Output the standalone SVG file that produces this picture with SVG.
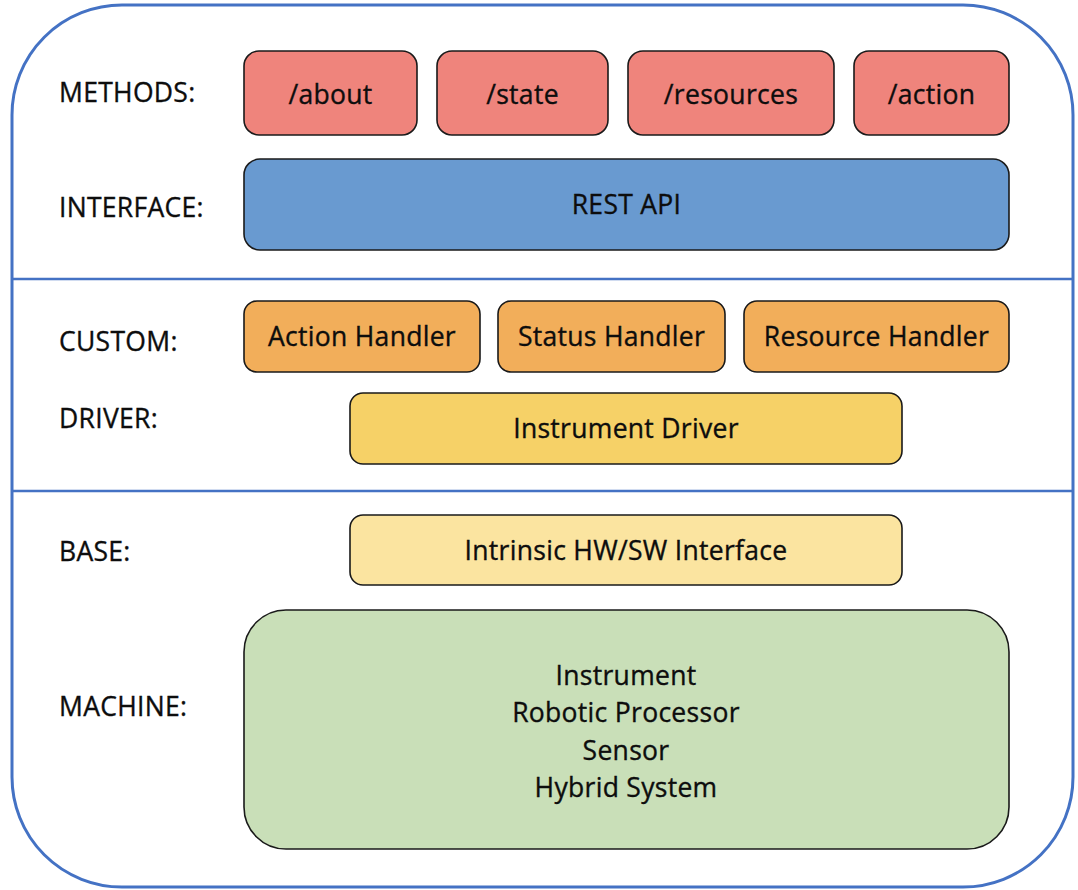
<svg xmlns="http://www.w3.org/2000/svg" width="1078" height="890" viewBox="0 0 1078 890">
  <style>
    .frame { fill: #ffffff; stroke: #4472C4; stroke-width: 3; }
    .divider { stroke: #4472C4; stroke-width: 2.5; }
    .box { stroke: #1a1a1a; stroke-width: 1.6; }
    .method { fill: #EF847C; }
    .api { fill: #699AD0; }
    .custom { fill: #F2AE5A; }
    .driver { fill: #F6D167; }
    .base { fill: #FBE4A0; }
    .machine { fill: #C9DFB8; }
    text { font-family: "Open Sans", "Liberation Sans", sans-serif; font-size: 26.5px; letter-spacing: 0.3px; fill: #0d0d0d; stroke: #0d0d0d; stroke-width: 0.35px; }
    .label { text-anchor: start; }
    .center { text-anchor: middle; }
  </style>

  <!-- outer container -->
  <rect class="frame" x="12" y="5" width="1061" height="882" rx="110" ry="110"/>

  <!-- layer separators -->
  <g id="connectors">
    <line class="divider" x1="12" y1="279" x2="1073" y2="279"/>
    <line class="divider" x1="12" y1="491" x2="1073" y2="491"/>
  </g>

  <!-- row labels -->
  <g id="labels">
    <text class="label" x="59" y="102">METHODS:</text>
    <text class="label" x="59" y="217">INTERFACE:</text>
    <text class="label" x="59" y="351">CUSTOM:</text>
    <text class="label" x="59" y="428">DRIVER:</text>
    <text class="label" x="59" y="561">BASE:</text>
    <text class="label" x="59" y="716">MACHINE:</text>
  </g>

  <!-- methods -->
  <g id="about">
    <rect class="box method" x="244" y="51" width="173" height="84" rx="15"/>
    <text class="center" x="330.5" y="104">/about</text>
  </g>
  <g id="state">
    <rect class="box method" x="437" y="51" width="171" height="84" rx="15"/>
    <text class="center" x="522.5" y="104">/state</text>
  </g>
  <g id="resources">
    <rect class="box method" x="628" y="51" width="206" height="84" rx="15"/>
    <text class="center" x="731" y="104">/resources</text>
  </g>
  <g id="action">
    <rect class="box method" x="854" y="51" width="155" height="84" rx="15"/>
    <text class="center" x="931.5" y="104">/action</text>
  </g>

  <!-- interface -->
  <g id="rest-api">
    <rect class="box api" x="244" y="159" width="765" height="91" rx="16"/>
    <text class="center" x="626.5" y="214">REST API</text>
  </g>

  <!-- custom handlers -->
  <g id="action-handler">
    <rect class="box custom" x="244" y="301" width="236" height="71" rx="13"/>
    <text class="center" x="362" y="346">Action Handler</text>
  </g>
  <g id="status-handler">
    <rect class="box custom" x="498" y="301" width="227" height="71" rx="13"/>
    <text class="center" x="611.5" y="346">Status Handler</text>
  </g>
  <g id="resource-handler">
    <rect class="box custom" x="744" y="301" width="265" height="71" rx="13"/>
    <text class="center" x="876.5" y="346">Resource Handler</text>
  </g>

  <!-- driver -->
  <g id="instrument-driver">
    <rect class="box driver" x="350" y="393" width="552" height="71" rx="13"/>
    <text class="center" x="626" y="438">Instrument Driver</text>
  </g>

  <!-- base -->
  <g id="intrinsic-interface">
    <rect class="box base" x="350" y="515" width="552" height="70" rx="13"/>
    <text class="center" x="626" y="560">Intrinsic HW/SW Interface</text>
  </g>

  <!-- machine -->
  <g id="machine">
    <rect class="box machine" x="244" y="610" width="765" height="239" rx="42"/>
    <text class="center" x="626" y="685">Instrument</text>
    <text class="center" x="626" y="722">Robotic Processor</text>
    <text class="center" x="626" y="760">Sensor</text>
    <text class="center" x="626" y="797">Hybrid System</text>
  </g>
</svg>
